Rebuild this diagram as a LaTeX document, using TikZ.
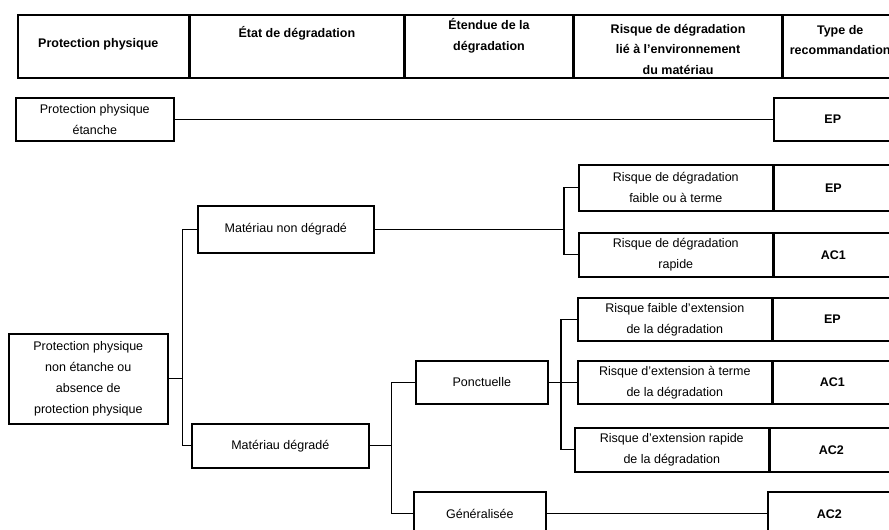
\documentclass[tikz,border=0pt]{standalone}
\usepackage{fontspec}
\setmainfont{Liberation Sans}
\usepackage{tikz}
\usetikzlibrary{positioning,calc}

\begin{document}
\begin{tikzpicture}[
  x=1pt, y=-1pt,
  font=\fontsize{12.5}{21}\selectfont,
  hcell/.style={draw, line width=1.6pt, anchor=north west, minimum height=63pt,
                inner sep=0pt},
  htxt/.style={align=center, font=\fontsize{12.5}{20.5}\selectfont\bfseries},
  box/.style={draw, line width=1.6pt, anchor=north west, align=center,
              inner sep=0pt, minimum height=44pt},
  rec/.style={draw, line width=1.6pt, align=center, inner sep=0pt,
              minimum width=118pt, font=\fontsize{12.5}{21}\selectfont\bfseries},
  lnk/.style={line width=1.3pt},
]
\useasboundingbox (0,0) rectangle (889,530);
% Header row
\node[hcell, minimum width=171pt] (hprot) at (17,14) {};
\node[hcell, minimum width=213pt, right=0pt of hprot] (hetat) {};
\node[hcell, minimum width=168pt, right=0pt of hetat] (hetend) {};
\node[hcell, minimum width=207pt, right=0pt of hetend] (hrisq) {};
\node[hcell, minimum width=114pt, right=0pt of hrisq] (htype) {};
\node[htxt] (lprot) at ($(hprot.center)+(-5,-2)$) {Protection physique};
\node[htxt] (letat) at ($(hetat.north)+(0,19)$) {État de dégradation};
\node[htxt] (letend) at ($(hetend.north)+(0,22)$) {Étendue de la\\dégradation};
\node[htxt] (lrisq) at ($(hrisq.center)+(0,3)$)
  {Risque de dégradation\\lié à l'environnement\\du matériau};
\node[htxt] (ltype) at ($(htype.north)+(0,26)$) {Type de\\recommandation};
% Protection physique etanche
\node[box, minimum width=158pt, minimum height=43pt] (etanche) at (15,97)
  {Protection physique\\étanche};
\node[rec, anchor=north west, minimum height=43pt] (ep1) at (773,97) {EP};
\draw[lnk] (etanche) -- (ep1);
% Protection physique non etanche
\node[box, minimum width=159pt, minimum height=90pt] (nonetanche) at (8,333)
  {Protection physique\\non étanche ou\\absence de\\protection physique};
\node[box, minimum width=176pt, minimum height=47pt] (nondeg) at (197,205)
  {Matériau non dégradé};
\node[box, minimum width=177pt] (deg) at (191,423) {Matériau dégradé};
\draw[lnk] (nonetanche.east) -- ++(14,0) coordinate (j1) |- (nondeg.west);
\draw[lnk] (j1) |- (deg.west);
% Materiau non degrade
\node[box, minimum width=194pt, minimum height=46pt] (rfaible) at (578,164)
  {Risque de dégradation\\faible ou à terme};
\node[rec, right=0pt of rfaible, minimum height=46pt] (ep2) {EP};
\node[box, minimum width=194pt] (rrapide) at (578,232)
  {Risque de dégradation\\rapide};
\node[rec, right=0pt of rrapide, minimum height=44pt] (ac1a) {AC1};
\draw[lnk] (nondeg.east) -- ([xshift=-14pt]nondeg.east -| rfaible.west)
  coordinate (j2) |- (rfaible.west);
\draw[lnk] (j2) |- (rrapide.west);
% Materiau degrade
\node[box, minimum width=132pt, minimum height=43pt] (ponct) at (415,360)
  {Ponctuelle};
\node[box, minimum width=132pt] (gen) at (413,491) {Généralisée};
\draw[lnk] (deg.east) -- ++(22,0) coordinate (j3) |- (ponct.west);
\draw[lnk] (j3) |- (gen.west);
\node[box, minimum width=194pt, minimum height=43pt] (ext1) at (577,297)
  {Risque faible d'extension\\de la dégradation};
\node[rec, right=0pt of ext1, minimum height=43pt] (ep3) {EP};
\node[box, minimum width=194pt, minimum height=43pt] (ext2) at (577,360)
  {Risque d'extension à terme\\de la dégradation};
\node[rec, right=0pt of ext2, minimum height=43pt] (ac1b) {AC1};
\node[box, minimum width=194pt] (ext3) at (574,427)
  {Risque d'extension rapide\\de la dégradation};
\node[rec, right=0pt of ext3, minimum height=44pt, minimum width=122pt] (ac2a) {AC2};
\draw[lnk] (ponct.east) -- ([xshift=-16pt]ponct.east -| ext1.west)
  coordinate (j4) |- (ext1.west);
\draw[lnk] (j4) |- (ext2.west);
\draw[lnk] (j4) |- (ext3.west);
\node[rec, anchor=north west, minimum height=44pt, minimum width=123pt] (ac2b)
  at (767,491) {AC2};
\draw[lnk] (gen) -- (ac2b);
\end{tikzpicture}
\end{document}
